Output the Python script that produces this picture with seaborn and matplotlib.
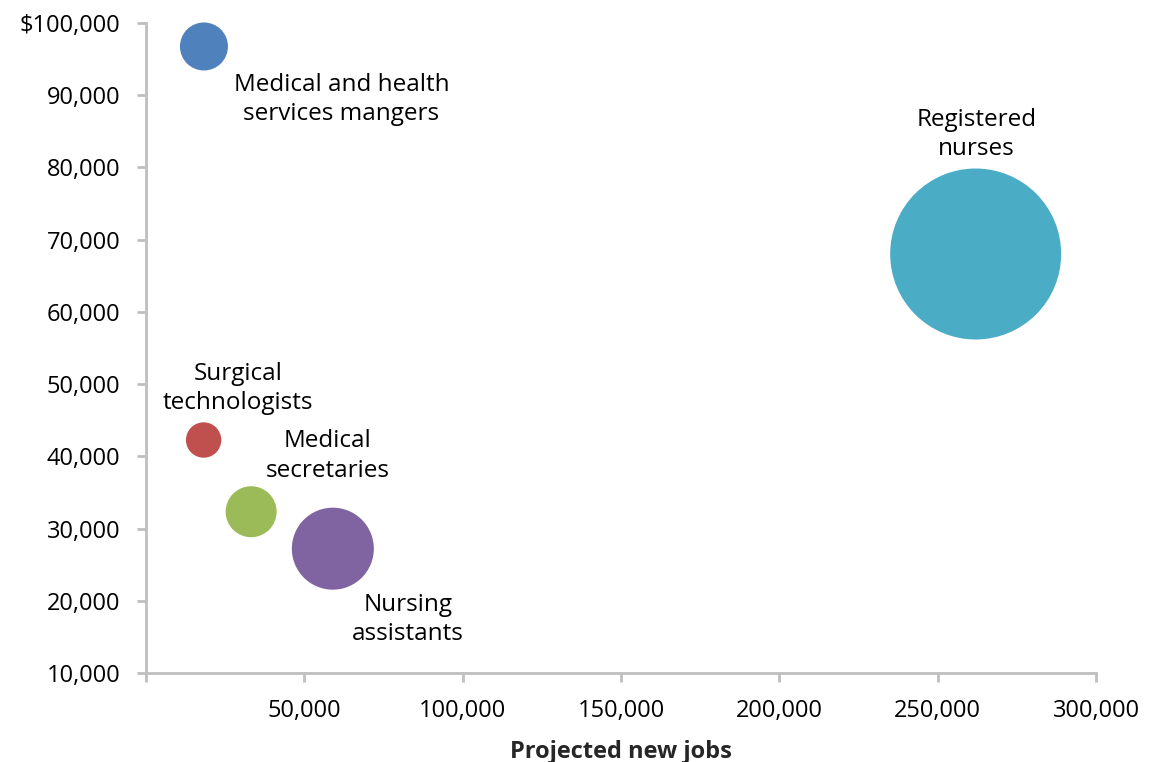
import matplotlib
matplotlib.use("Agg")
import matplotlib.pyplot as plt
import seaborn as sns
import pandas as pd
from matplotlib.ticker import FuncFormatter, FixedLocator

# ---- data ----
occupations = ["Medical and health\nservices mangers", "Surgical\ntechnologists",
               "Medical\nsecretaries", "Nursing\nassistants", "Registered\nnurses"]
new_jobs = [18300, 18200, 33200, 59000, 262000]
median_wage = [96750, 42260, 32330, 27215, 68015]
bubble_size = [576, 313, 650, 1681, 7310]   # relative bubble areas
colors = ["#4F81BD", "#C0504D", "#9BBB59", "#8064A2", "#4BACC6"]
x_ticks = [0, 50000, 100000, 150000, 200000, 250000, 300000]
y_ticks = [10000, 20000, 30000, 40000, 50000, 60000, 70000, 80000, 90000, 100000]

df = pd.DataFrame({"occ": occupations, "jobs": new_jobs, "wage": median_wage,
                   "size": bubble_size})

sns.set_theme(style="white")
plt.rcParams["font.family"] = ["Open Sans", "DejaVu Sans"]

fig = plt.figure(figsize=(11.6, 7.62), dpi=100)
ax = fig.add_axes([146 / 1160, 1 - 673 / 762, 950 / 1160, 650 / 762])

sns.scatterplot(data=df, x="jobs", y="wage", hue="occ", size="size",
                palette=dict(zip(occupations, colors)),
                sizes=(0, 15159), size_norm=(0, max(bubble_size)),
                linewidth=0, alpha=1, legend=False, ax=ax, zorder=3)
for c in ax.collections:
    c.set_clip_on(False)

ax.set_xlim(0, 300000)
ax.set_ylim(10000, 100000)

ax.xaxis.set_major_locator(FixedLocator(x_ticks))
ax.yaxis.set_major_locator(FixedLocator(y_ticks))
ax.xaxis.set_major_formatter(FuncFormatter(lambda v, p: "" if v == 0 else f"{int(v):,}"))
ax.yaxis.set_major_formatter(FuncFormatter(
    lambda v, p: f"${int(v):,}" if v == 100000 else f"{int(v):,}"))

for s in ["top", "right"]:
    ax.spines[s].set_visible(False)
for s in ["left", "bottom"]:
    ax.spines[s].set_color("#BFBFBF")
    ax.spines[s].set_linewidth(2)

ax.tick_params(axis="both", which="major", direction="out", length=6.5, width=2,
               color="#BFBFBF", labelsize=17, labelcolor="black")
ax.tick_params(axis="x", pad=12.5)
ax.tick_params(axis="y", pad=12)
ax.tick_params(left=True, bottom=True)

ax.set_xlabel("Projected new jobs", fontsize=17, fontweight="bold", labelpad=12)
ax.set_ylabel("")

offsets = [(99, -38), (25, 37), (55, 40), (54, -51), (0.7, 86)]
for occ, xv, yv, off in zip(occupations, new_jobs, median_wage, offsets):
    ax.annotate(occ, (xv, yv), xytext=off, textcoords="offset points",
                ha="center", va="center", fontsize=17.5, linespacing=1.3,
                color="black", annotation_clip=False)

fig.savefig("out.png", dpi=100, facecolor="white")
